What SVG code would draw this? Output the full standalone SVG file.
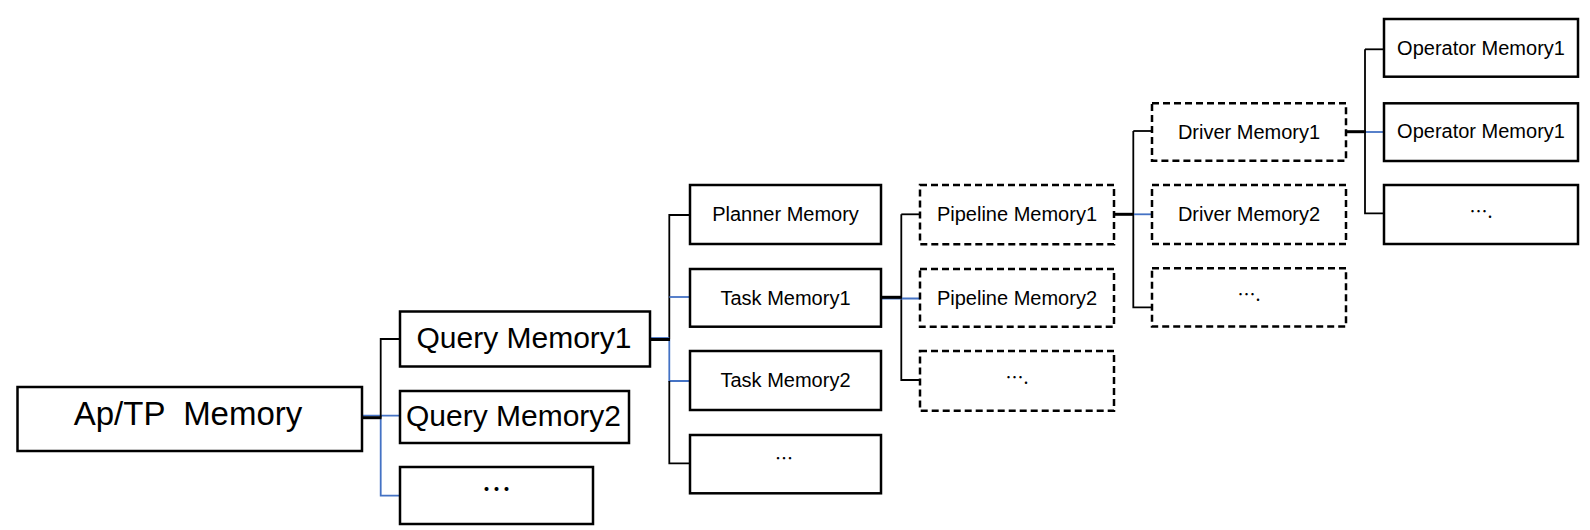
<svg xmlns="http://www.w3.org/2000/svg" width="1590" height="530" viewBox="0 0 1590 530">
  <style>
    .box { fill: #fff; stroke: #000; stroke-width: 2.5; }
    .dash { fill: #fff; stroke: #000; stroke-width: 2.5; stroke-dasharray: 7 4; }
    .lbl { font-family: "Liberation Sans", Arial, sans-serif; fill: #000; text-anchor: middle; }
    .big { font-size: 30px; }
    .sm { font-size: 20px; }
    .ell { font-family: "Noto Sans CJK SC", "Liberation Sans", sans-serif; fill: #000; text-anchor: middle; }
    .blk { fill: none; stroke: #000; stroke-width: 1.8; }
    .stub { fill: none; stroke: #000; stroke-width: 3; }
    .blu { fill: none; stroke: #4472C4; stroke-width: 1.8; }
  </style>

  <rect width="1590" height="530" fill="#fff"/>

  <!-- connectors -->
  <g id="connectors">
    <!-- root to queries -->
    <path class="blu" d="M362,415.7 H400"/>
    <path class="blk" d="M380.7,417.7 V339 H400"/>
    <path class="blu" d="M380.7,417.7 V495.7 H400"/>
    <path class="stub" d="M362,417.7 H381.5"/>

    <!-- query to planner/tasks -->
    <path class="blk" d="M669.3,339.3 V215 H690"/>
    <path class="blu" d="M669.3,297 H690"/>
    <path class="blu" d="M669.3,339.3 V381 H690"/>
    <path class="blk" d="M669.3,381 V463.3 H690"/>
    <path class="blu" d="M650,338 H669.3"/>
    <path class="stub" d="M650,339.5 H670"/>

    <!-- task to pipelines -->
    <path class="blk" d="M901.3,214.3 V380 H920"/>
    <path class="blk" d="M901.3,214.3 H920"/>
    <path class="blu" d="M882,298.5 H920"/>
    <path class="stub" d="M882,297.3 H902"/>

    <!-- pipeline to drivers -->
    <path class="blk" d="M1133.3,131 V307.3 H1152"/>
    <path class="blk" d="M1133.3,131 H1152"/>
    <path class="blu" d="M1133.3,214.3 H1152"/>
    <path class="stub" d="M1114,214.3 H1134"/>

    <!-- driver to operators -->
    <path class="blk" d="M1365,49.3 V213.3 H1384"/>
    <path class="blk" d="M1365,49.3 H1384"/>
    <path class="blu" d="M1365,132 H1384"/>
    <path class="stub" d="M1346,131.7 H1366"/>
  </g>

  <!-- root -->
  <g id="ap-tp-memory">
    <rect class="box" x="17.5" y="387" width="344.5" height="64"/>
    <text class="lbl" x="188" y="425" font-size="33" style="white-space:pre">Ap/TP  Memory</text>
  </g>

  <!-- queries -->
  <g id="query-memory1">
    <rect class="box" x="400" y="311.5" width="250" height="55"/>
    <text class="lbl big" x="524" y="347.7">Query Memory1</text>
  </g>
  <g id="query-memory2">
    <rect class="box" x="400" y="391" width="229" height="52"/>
    <text class="lbl big" x="513.5" y="426">Query Memory2</text>
  </g>
  <g id="query-more">
    <rect class="box" x="400" y="467" width="193" height="57"/>
    <text class="ell" x="496.5" y="500" font-size="30">…</text>
  </g>

  <!-- planner and tasks -->
  <g id="planner-memory">
    <rect class="box" x="690" y="185" width="191" height="59"/>
    <text class="lbl sm" x="785.5" y="221">Planner Memory</text>
  </g>
  <g id="task-memory1">
    <rect class="box" x="690" y="269" width="191" height="57.7"/>
    <text class="lbl sm" x="785.5" y="304.5">Task Memory1</text>
  </g>
  <g id="task-memory2">
    <rect class="box" x="690" y="351" width="191" height="59"/>
    <text class="lbl sm" x="785.5" y="387">Task Memory2</text>
  </g>
  <g id="task-more">
    <rect class="box" x="690" y="435" width="191" height="58.3"/>
    <text class="ell" x="784" y="465" font-size="18">…</text>
  </g>

  <!-- pipelines -->
  <g id="pipeline-memory1">
    <rect class="dash" x="920" y="185" width="194" height="59.3"/>
    <text class="lbl sm" x="1017" y="221">Pipeline Memory1</text>
  </g>
  <g id="pipeline-memory2">
    <rect class="dash" x="920" y="269" width="194" height="57.7"/>
    <text class="lbl sm" x="1017" y="304.5">Pipeline Memory2</text>
  </g>
  <g id="pipeline-more">
    <rect class="dash" x="920" y="351" width="194" height="59.7"/>
    <text class="ell" x="1017" y="384" font-size="18">….</text>
  </g>

  <!-- drivers -->
  <g id="driver-memory1">
    <rect class="dash" x="1152" y="103.3" width="194" height="57.4"/>
    <text class="lbl sm" x="1249" y="138.5">Driver Memory1</text>
  </g>
  <g id="driver-memory2">
    <rect class="dash" x="1152" y="185" width="194" height="59"/>
    <text class="lbl sm" x="1249" y="221">Driver Memory2</text>
  </g>
  <g id="driver-more">
    <rect class="dash" x="1152" y="268.3" width="194" height="58.2"/>
    <text class="ell" x="1249" y="301" font-size="18">….</text>
  </g>

  <!-- operators -->
  <g id="operator-memory1-a">
    <rect class="box" x="1384" y="19" width="194" height="57.7"/>
    <text class="lbl sm" x="1481" y="54.5">Operator Memory1</text>
  </g>
  <g id="operator-memory1-b">
    <rect class="box" x="1384" y="103.3" width="194" height="57.7"/>
    <text class="lbl sm" x="1481" y="138">Operator Memory1</text>
  </g>
  <g id="operator-more">
    <rect class="box" x="1384" y="185" width="194" height="59"/>
    <text class="ell" x="1481" y="218" font-size="18">….</text>
  </g>
</svg>
